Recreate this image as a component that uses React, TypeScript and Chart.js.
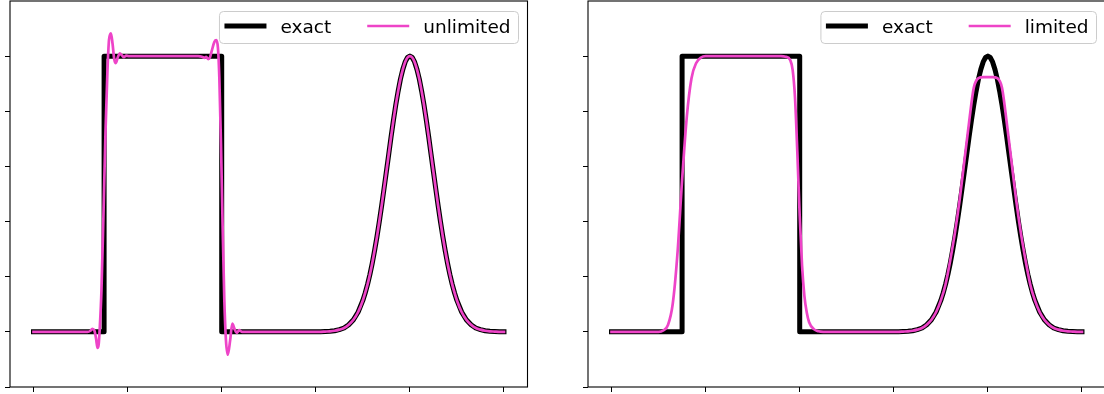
import { useEffect, useRef } from 'react';
import { Chart, registerables } from 'chart.js';

Chart.register(...registerables);

// Axis tick positions (labels are hidden, only the tick marks are drawn)
const xTicks = [0, 0.2, 0.4, 0.6, 0.8, 1.0];
const yTicks = [-0.2, 0, 0.2, 0.4, 0.6, 0.8, 1.0];

// Square pulse of the exact solution
const squareX = [0, 0.15, 0.15, 0.4, 0.4];
const squareY = [0, 0, 1, 1, 0];

// Gaussian bump of the exact solution, sampled more finely around its crest
const exactGaussX = [
  0.6, 0.61, 0.62, 0.63, 0.64, 0.65, 0.66, 0.67, 0.68, 0.69,
  0.7, 0.705, 0.71, 0.715, 0.72, 0.725, 0.73, 0.735, 0.74, 0.745,
  0.75, 0.755, 0.76, 0.765, 0.77, 0.775, 0.78, 0.785, 0.79, 0.795,
  0.8, 0.805, 0.81, 0.815, 0.82, 0.825, 0.83, 0.835, 0.84, 0.845,
  0.85, 0.855, 0.86, 0.865, 0.87, 0.875, 0.88, 0.885, 0.89, 0.895,
  0.9, 0.91, 0.92, 0.93, 0.94, 0.95, 0.96, 0.97, 0.98, 0.99, 1.0,
];
const exactGauss = [
  0.0, 0.0, 0.001, 0.002, 0.004, 0.008, 0.014, 0.026, 0.044, 0.072,
  0.114, 0.141, 0.172, 0.208, 0.249, 0.295, 0.345, 0.4, 0.458, 0.519,
  0.581, 0.644, 0.707, 0.767, 0.823, 0.873, 0.917, 0.952, 0.979, 0.995,
  1.0, 0.995, 0.979, 0.952, 0.917, 0.873, 0.823, 0.767, 0.707, 0.644,
  0.581, 0.519, 0.458, 0.4, 0.345, 0.295, 0.249, 0.208, 0.172, 0.141,
  0.114, 0.072, 0.044, 0.026, 0.014, 0.008, 0.004, 0.002, 0.001, 0.0, 0.0,
];

// Gaussian bump of the limited scheme (clipped crest)
const limitedGaussX = [
  0.6, 0.61, 0.62, 0.63, 0.64, 0.65, 0.66, 0.67, 0.68, 0.69, 0.7, 0.71, 0.72, 0.73,
  0.74, 0.75, 0.76, 0.77, 0.78, 0.79, 0.8, 0.81, 0.82, 0.83, 0.84, 0.85, 0.86, 0.87,
  0.88, 0.89, 0.9, 0.91, 0.92, 0.93, 0.94, 0.95, 0.96, 0.97, 0.98, 0.99, 1.0,
];
const limitedGauss = [
  0.0, 0.0, 0.001, 0.002, 0.004, 0.008, 0.014, 0.026, 0.044, 0.072, 0.114, 0.172, 0.26, 0.36,
  0.48, 0.62, 0.76, 0.885, 0.92, 0.924, 0.924, 0.924, 0.92, 0.885, 0.76, 0.62, 0.48, 0.36,
  0.26, 0.172, 0.114, 0.072, 0.044, 0.026, 0.014, 0.008, 0.004, 0.002, 0.001, 0.0, 0.0,
];

// Unlimited scheme: oscillations around both edges of the pulse
const unlimitedX = [
  0, 0.1, 0.115, 0.121, 0.125, 0.1295, 0.133, 0.136, 0.1385, 0.141, 0.1444, 0.1486, 0.1529,
  0.157, 0.1605, 0.1645, 0.168, 0.1715, 0.175, 0.179, 0.1835, 0.188, 0.192, 0.197, 0.203,
  0.35, 0.358, 0.3635, 0.367, 0.3715, 0.375, 0.379, 0.3845, 0.3885, 0.392, 0.395, 0.3985,
  0.402, 0.4055, 0.409, 0.413, 0.418, 0.4225, 0.427, 0.432, 0.437, 0.443,
];
const unlimitedY = [
  0, 0, 0, 0.004, 0.011, 0.004, -0.025, -0.058, -0.045, 0.02, 0.15, 0.42, 0.72,
  0.94, 1.06, 1.083, 1.045, 0.99, 0.975, 0.995, 1.01, 1.003, 0.996, 1.002, 1.0,
  1.0, 0.998, 0.994, 0.997, 0.989, 0.995, 1.02, 1.052, 1.058, 1.03, 0.92, 0.68,
  0.38, 0.12, -0.03, -0.083, -0.03, 0.03, 0.012, -0.004, 0.006, 0,
];

// Limited scheme: smeared edges, no over/undershoot
const limitedX = [
  0, 0.1, 0.11, 0.12, 0.13, 0.14, 0.15, 0.16, 0.17, 0.18, 0.19, 0.2,
  0.36, 0.37, 0.38, 0.385, 0.39, 0.395, 0.4, 0.405, 0.41, 0.415, 0.42, 0.43, 0.44, 0.45,
];
const limitedY = [
  0, 0, 0.005, 0.025, 0.1, 0.28, 0.55, 0.78, 0.92, 0.975, 0.995, 1.0,
  1.0, 0.998, 0.985, 0.95, 0.85, 0.65, 0.42, 0.24, 0.13, 0.07, 0.035, 0.01, 0.002, 0,
];

const PINK = '#ee44c8';
const FONT = '18.5px "DejaVu Sans"';

const toPoints = (xs: number[], ys: number[]) => xs.map((x, i) => ({ x, y: ys[i] }));

type PanelProps = {
  left: number;
  width: number;
  areaRight: number;
  label: string;
  xs: number[];
  ys: number[];
};

function Panel({ left, width, areaRight, label, xs, ys }: PanelProps) {
  const ref = useRef<HTMLCanvasElement>(null);

  useEffect(() => {
    const canvas = ref.current;
    if (!canvas) return;

    // Axes frame (all four spines) and the boxed legend in the upper right
    const frameAndLegend = {
      id: 'frameAndLegend',
      afterDatasetsDraw(chart: any) {
        const { ctx, chartArea: a } = chart;
        ctx.save();
        ctx.strokeStyle = '#000';
        ctx.lineWidth = 1.1;
        ctx.strokeRect(a.left, a.top, a.right - a.left, a.bottom - a.top);

        ctx.font = FONT;
        const w1 = ctx.measureText('exact').width;
        const w2 = ctx.measureText(label).width;
        const sample = 42;
        const boxW = 5 + sample + 14 + w1 + 36 + sample + 14 + w2 + 8;
        const boxR = a.right - 9;
        const boxL = boxR - boxW;
        const boxT = 11.5;
        const boxB = 43.5;

        ctx.beginPath();
        ctx.roundRect(boxL, boxT, boxW, boxB - boxT, 4);
        ctx.fillStyle = 'rgba(255,255,255,0.8)';
        ctx.fill();
        ctx.strokeStyle = '#cccccc';
        ctx.lineWidth = 1;
        ctx.stroke();

        const lineY = 26;
        const textY = 33;
        let x = boxL + 5;
        ctx.lineCap = 'butt';
        ctx.strokeStyle = '#000';
        ctx.lineWidth = 5;
        ctx.beginPath();
        ctx.moveTo(x, lineY);
        ctx.lineTo(x + sample, lineY);
        ctx.stroke();
        x += sample + 14;
        ctx.fillStyle = '#000';
        ctx.textBaseline = 'alphabetic';
        ctx.fillText('exact', x, textY);
        x += w1 + 36;
        ctx.strokeStyle = PINK;
        ctx.lineWidth = 2.7;
        ctx.beginPath();
        ctx.moveTo(x, lineY);
        ctx.lineTo(x + sample, lineY);
        ctx.stroke();
        x += sample + 14;
        ctx.fillText(label, x, textY);
        ctx.restore();
      },
    };

    const tickGrid = {
      drawOnChartArea: false,
      drawTicks: true,
      tickLength: 5,
      color: '#000',
      lineWidth: 1,
    };

    const limited = label === 'limited';
    const pinkX = [...xs, ...(limited ? limitedGaussX : exactGaussX)];
    const pinkY = [...ys, ...(limited ? limitedGauss : exactGauss)];

    const chart = new Chart(canvas, {
      type: 'line',
      data: {
        datasets: [
          {
            label,
            data: toPoints(pinkX, pinkY),
            borderColor: PINK,
            borderWidth: 2.7,
            borderCapStyle: 'square',
            pointRadius: 0,
            cubicInterpolationMode: 'monotone',
            order: 0,
          },
          {
            label: 'exact',
            data: toPoints([...squareX, ...exactGaussX], [...squareY, ...exactGauss]),
            borderColor: '#000',
            borderWidth: 5,
            borderCapStyle: 'square',
            pointRadius: 0,
            tension: 0,
            borderJoinStyle: 'round',
            order: 1,
          },
        ],
      },
      options: {
        animation: false,
        responsive: false,
        devicePixelRatio: 1,
        events: [],
        layout: { padding: { left: 0, top: 1, right: width - areaRight, bottom: 0 } },
        plugins: { legend: { display: false }, tooltip: { enabled: false } },
        scales: {
          x: {
            type: 'linear',
            min: -0.05,
            max: 1.05,
            afterBuildTicks: (s: any) => {
              s.ticks = xTicks.map((v) => ({ value: v }));
            },
            afterFit: (s: any) => {
              s.height = 7;
            },
            ticks: { display: false },
            grid: tickGrid,
            border: { display: false },
          },
          y: {
            type: 'linear',
            min: -0.2,
            max: 1.2,
            afterBuildTicks: (s: any) => {
              s.ticks = yTicks.map((v) => ({ value: v }));
            },
            afterFit: (s: any) => {
              s.width = 10;
            },
            ticks: { display: false },
            grid: tickGrid,
            border: { display: false },
          },
        },
      } as any,
      plugins: [frameAndLegend],
    });

    return () => chart.destroy();
  }, [left, width, areaRight, label, xs, ys]);

  return (
    <canvas
      ref={ref}
      width={width}
      height={394}
      style={{ position: 'absolute', left, top: 0, width, height: 394 }}
    />
  );
}

export default function App() {
  return (
    <div
      style={{
        position: 'absolute',
        left: 0,
        top: 0,
        width: 1104,
        height: 394,
        overflow: 'hidden',
        background: '#fff',
      }}
    >
      <Panel left={0} width={540} areaRight={527.5} label="unlimited" xs={unlimitedX} ys={unlimitedY} />
      <Panel left={578} width={530} areaRight={527.5} label="limited" xs={limitedX} ys={limitedY} />
    </div>
  );
}
